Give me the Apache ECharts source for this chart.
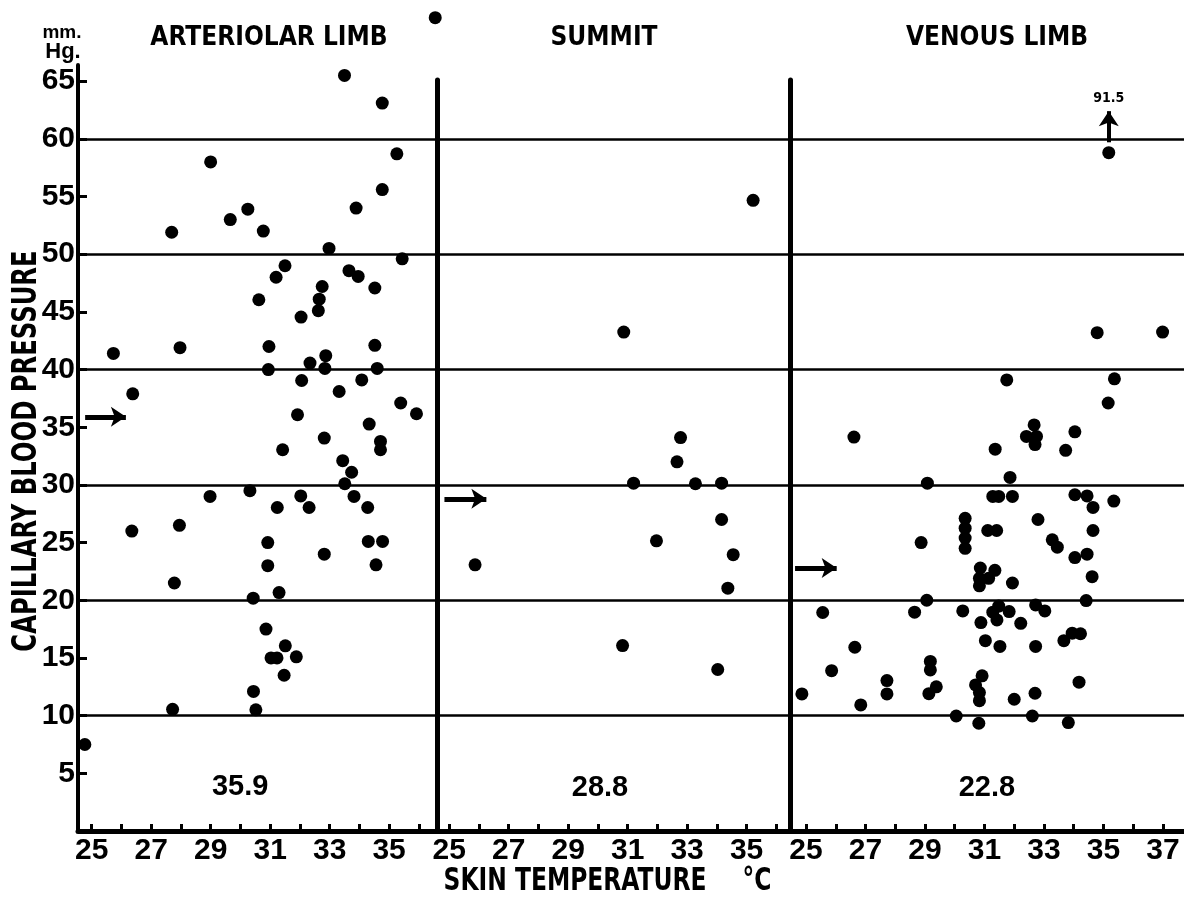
<!DOCTYPE html>
<html><head><meta charset="utf-8">
<script src="https://cdn.jsdelivr.net/npm/echarts@6/dist/echarts.min.js"></script>
<style>html,body{margin:0;padding:0;background:#fff}#chart{width:1184px;height:898px}</style>
</head><body><div id="chart"></div>
<script>
// ---------- data ----------
const panelTitles = ['ARTERIOLAR LIMB', 'SUMMIT', 'VENOUS LIMB'];
const meanPressure = [35.9, 28.8, 22.8];
const xTickValues = [
  [25, 26, 27, 28, 29, 30, 31, 32, 33, 34, 35, 36],
  [25, 26, 27, 28, 29, 30, 31, 32, 33, 34, 35, 36],
  [25, 26, 27, 28, 29, 30, 31, 32, 33, 34, 35, 36, 37]
];
const xLabelValues = [
  [25, 27, 29, 31, 33, 35],
  [25, 27, 29, 31, 33, 35],
  [25, 27, 29, 31, 33, 35, 37]
];
const yTickValues = [5, 10, 15, 20, 25, 30, 35, 40, 45, 50, 55, 60, 65];
const yAxisName = 'CAPILLARY BLOOD PRESSURE';
const xAxisName = 'SKIN TEMPERATURE';
const offScaleLabel = '91.5';

// [skin temperature °C, capillary pressure mm Hg]
const arteriolarPoints = [
  [36.55, 70.5], [33.5, 65.5], [34.77, 63.1], [29.0, 58.0], [35.26, 58.7], [34.77, 55.6],
  [33.89, 54.0], [29.66, 53.0], [30.25, 53.9], [27.69, 51.9], [30.77, 52.0], [32.98, 50.5],
  [35.44, 49.6], [31.5, 49.0], [31.2, 48.0], [33.65, 48.57], [33.96, 48.07], [32.75, 47.2],
  [34.52, 47.07], [30.62, 46.05], [32.65, 46.1], [32.62, 45.1], [32.04, 44.55], [25.73, 41.4],
  [27.97, 41.9], [30.96, 42.0], [34.52, 42.1], [32.34, 40.56], [32.87, 41.2], [32.84, 40.1],
  [30.94, 40.0], [34.6, 40.1], [32.06, 39.05], [34.08, 39.1], [26.38, 37.9], [33.32, 38.1],
  [35.39, 37.1], [35.92, 36.17], [31.92, 36.08], [34.33, 35.27], [32.82, 34.06], [34.71, 33.77],
  [34.71, 33.05], [31.42, 33.05], [33.44, 32.1], [33.74, 31.1], [33.51, 30.1], [28.98, 29.0],
  [30.32, 29.5], [32.03, 29.05], [33.82, 29.0], [31.24, 28.04], [32.31, 28.04], [34.28, 28.04],
  [26.35, 26.0], [27.95, 26.5], [30.92, 25.0], [34.3, 25.1], [34.78, 25.1], [32.82, 24.0],
  [30.92, 23.0], [34.56, 23.07], [27.78, 21.5], [30.43, 20.18], [31.3, 20.67], [30.86, 17.5],
  [31.51, 16.05], [31.03, 15.0], [31.23, 15.0], [31.88, 15.1], [31.47, 13.5], [30.44, 12.1],
  [27.72, 10.55], [30.52, 10.5], [24.77, 7.5]
];
const summitPoints = [
  [35.22, 54.67], [30.87, 43.25], [32.78, 34.1], [32.66, 32.0], [31.2, 30.15], [33.28, 30.1],
  [34.16, 30.15], [34.16, 27.0], [31.97, 25.15], [34.55, 23.95], [25.87, 23.07], [34.37, 21.05],
  [30.83, 16.07], [34.03, 14.0]
];
const venousPoints = [
  [35.18, 58.8], [34.79, 43.2], [36.99, 43.25], [31.75, 39.1], [35.37, 39.2], [35.16, 37.1],
  [26.61, 34.15], [32.67, 35.2], [32.41, 34.2], [32.75, 34.2], [32.7, 33.5], [31.36, 33.1],
  [34.04, 34.6], [33.73, 33.0], [31.86, 30.65], [29.08, 30.15], [31.28, 29.0], [31.48, 29.0],
  [31.94, 29.0], [34.04, 29.15], [34.45, 29.05], [34.65, 28.05], [35.35, 28.6], [30.35, 27.1],
  [30.35, 26.25], [30.35, 25.4], [30.35, 24.5], [31.11, 26.05], [31.41, 26.05], [32.8, 27.0],
  [28.87, 25.0], [33.28, 25.24], [33.45, 24.6], [34.65, 26.05], [34.04, 23.7], [34.45, 24.0],
  [34.62, 22.05], [30.86, 22.8], [31.35, 22.6], [31.14, 21.9], [30.83, 21.9], [30.83, 21.25],
  [31.94, 21.5], [29.06, 20.0], [34.42, 19.97], [25.56, 18.94], [28.65, 18.97], [30.27, 19.08],
  [31.28, 18.97], [31.48, 19.5], [31.42, 18.3], [31.83, 19.02], [30.88, 18.07], [32.22, 18.0],
  [32.72, 19.6], [33.03, 19.08], [31.03, 16.5], [31.52, 16.0], [32.72, 16.0], [33.67, 16.5],
  [33.95, 17.15], [34.23, 17.1], [26.64, 15.93], [25.86, 13.9], [29.18, 14.7], [29.18, 13.96],
  [30.92, 13.45], [29.38, 12.5], [29.13, 11.9], [30.7, 12.66], [30.83, 12.0], [30.83, 11.3],
  [27.72, 13.04], [27.72, 11.88], [24.86, 11.88], [26.84, 10.93], [32.0, 11.42], [32.7, 11.94],
  [34.18, 12.9], [30.05, 9.97], [30.81, 9.34], [32.61, 9.97], [33.82, 9.4]
];
const panelPoints = [arteriolarPoints, summitPoints, venousPoints];

// ---------- layout ----------
const COND = "'DejaVu Sans Condensed', 'Liberation Sans Narrow', sans-serif";
const SANS = "'Liberation Sans', Arial, sans-serif";
const panels = [
  {left: 78, right: 747, top: 65, xMin: 24.54, xMax: 36.61, yMax: 66.4, titleX: 269,
   arrow: [24.78, 26.15], meanAt: [29.99, 3.8]},
  {left: 437, right: 394, top: 80, xMin: 24.59, xMax: 36.46, yMax: 65.1, titleX: 604,
   arrow: [24.84, 26.25], meanAt: [30.07, 3.75]},
  {left: 790, right: 0, top: 80, xMin: 24.46, xMax: 37.71, yMax: 65.1, titleX: 997,
   arrow: [24.63, 26.03], meanAt: [31.08, 3.7]}
];

const grid = [], xAxis = [], yAxis = [], series = [], graphic = [];
panels.forEach((p, i) => {
  grid.push({left: p.left, right: p.right, top: p.top, bottom: 67});
  xAxis.push({
    gridIndex: i, type: 'value', min: p.xMin, max: p.xMax,
    axisLine: {show: true, onZero: false, lineStyle: {color: '#000', width: 5}},
    axisTick: {show: true, inside: true, length: 7, customValues: xTickValues[i],
      lineStyle: {color: '#000', width: 3}},
    axisLabel: {customValues: xLabelValues[i], margin: 5, color: '#000',
      fontFamily: SANS, fontWeight: 'bold', fontSize: 30},
    splitLine: {show: false}
  });
  // axis that carries the line, ticks and labels
  yAxis.push({
    gridIndex: i, type: 'value', min: 0, max: p.yMax, position: 'left',
    axisLine: {show: true, onZero: false, lineStyle: {color: '#000', width: i === 0 ? 4 : 5, cap: 'round'}},
    axisTick: i === 0 ? {show: true, inside: true, length: 9, customValues: yTickValues,
      lineStyle: {color: '#000', width: 3}} : {show: false},
    axisLabel: i === 0 ? {customValues: yTickValues, margin: 3, color: '#000',
      fontFamily: SANS, fontWeight: 'bold', fontSize: 30} : {show: false},
    splitLine: {show: false}
  });
});
// companion axes that only draw the horizontal rules every 10 mm Hg
panels.forEach((p, i) => {
  yAxis.push({
    gridIndex: i, type: 'value', min: 0, max: p.yMax, interval: 10, position: 'left',
    axisLine: {show: false}, axisTick: {show: false}, axisLabel: {show: false},
    splitLine: {show: true, showMinLine: false, showMaxLine: false,
      lineStyle: {color: '#000', width: 2.5}}
  });
});

panels.forEach((p, i) => {
  const lines = [[
    {coord: [p.arrow[0], meanPressure[i]]},
    {coord: [p.arrow[1], meanPressure[i]]}
  ]];
  if (i === 2) {
    const pt = venousPoints[0];
    lines.push([
      {coord: [pt[0], pt[1] + 0.9],
       label: {show: true, position: 'end', formatter: offScaleLabel, distance: 6,
         color: '#000', fontFamily: COND, fontWeight: 'bold', fontSize: 14},
       lineStyle: {width: 4}},
      {coord: [pt[0], pt[1] + 3.6]}
    ]);
  }
  series.push({
    type: 'scatter', xAxisIndex: i, yAxisIndex: i, data: panelPoints[i],
    symbolSize: 13, clip: false, itemStyle: {color: '#000', opacity: 1}, z: 5,
    markLine: {
      silent: true, animation: false, symbol: ['none', 'arrow'], symbolSize: 15,
      label: {show: false},
      lineStyle: {color: '#000', width: 5, type: 'solid'},
      data: lines
    }
  });
  series.push({
    type: 'scatter', xAxisIndex: i, yAxisIndex: i, silent: true, symbolSize: 0,
    itemStyle: {color: '#000', opacity: 1},
    data: [p.meanAt],
    label: {show: true, position: 'inside', formatter: meanPressure[i].toFixed(1),
      color: '#000', opacity: 1, fontFamily: SANS, fontWeight: 'bold', fontSize: 29}
  });
  graphic.push({type: 'text', x: p.titleX, y: 38, silent: true,
    style: {text: panelTitles[i], fill: '#000', font: "bold 26px " + COND,
      textAlign: 'center', textVerticalAlign: 'middle'}});
});

graphic.push(
  {type: 'text', x: 62, y: 33, silent: true,
   style: {text: 'mm.', fill: '#000', font: 'bold 19px ' + SANS, textAlign: 'center', textVerticalAlign: 'middle'}},
  {type: 'text', x: 63, y: 52, silent: true,
   style: {text: 'Hg.', fill: '#000', font: 'bold 22px ' + SANS, textAlign: 'center', textVerticalAlign: 'middle'}},
  {type: 'text', x: 27, y: 451, rotation: Math.PI / 2, scaleY: 1.25, silent: true,
   style: {text: yAxisName, fill: '#000', font: 'bold 27px ' + COND, textAlign: 'center', textVerticalAlign: 'middle'}},
  {type: 'text', x: 575, y: 882, scaleY: 1.25, silent: true,
   style: {text: xAxisName, fill: '#000', font: 'bold 26px ' + COND, textAlign: 'center', textVerticalAlign: 'middle'}},
  {type: 'text', x: 757, y: 882, scaleY: 1.25, silent: true,
   style: {text: '°C', fill: '#000', font: 'bold 26px ' + COND, textAlign: 'center', textVerticalAlign: 'middle'}}
);

const chart = echarts.init(document.getElementById('chart'), null, {renderer: 'canvas'});
chart.setOption({
  backgroundColor: '#fff',
  animation: false,
  grid, xAxis, yAxis, series, graphic
});
</script></body></html>
